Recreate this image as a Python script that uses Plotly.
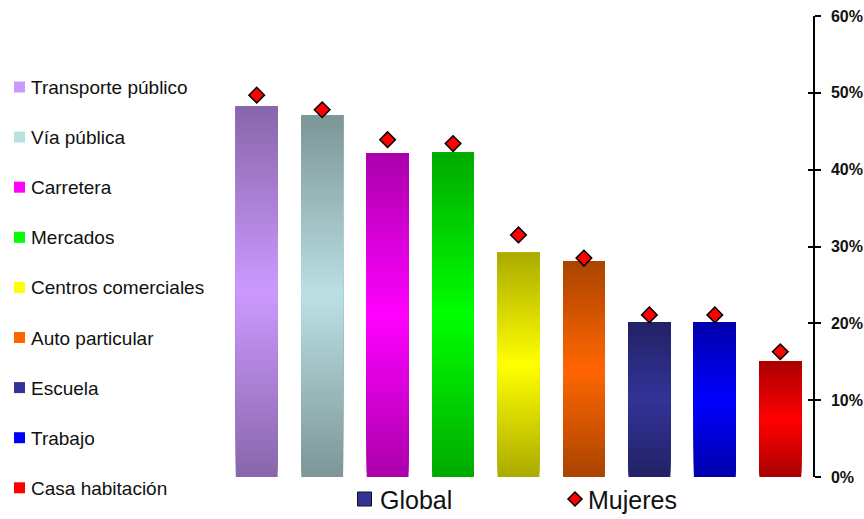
import plotly.graph_objects as go

# Lugares donde ocurren los hechos: total (barras) y mujeres (rombos)
lugares = ["Transporte público", "Vía pública", "Carretera", "Mercados",
           "Centros comerciales", "Auto particular", "Escuela", "Trabajo",
           "Casa habitación"]
global_pct = [0.482, 0.471, 0.421, 0.422, 0.292, 0.281, 0.201, 0.201, 0.150]
mujeres_pct = [0.497, 0.478, 0.439, 0.434, 0.315, 0.285, 0.211, 0.211, 0.163]
colores = ["#CC99FF", "#BBE0E3", "#FF00FF", "#00FF00", "#FFFF00",
           "#FF6600", "#333399", "#0000FF", "#FF0000"]
ticks_y = [0, 0.1, 0.2, 0.3, 0.4, 0.5, 0.6]

FONT = "Liberation Sans, Arial, sans-serif"
W, H = 864, 519
ML, MR, MT, MB = 224, 51, 16, 42


def hex_rgb(c):
    c = c.lstrip("#")
    return [int(c[i:i + 2], 16) for i in (0, 2, 4)]


def shade(c, f):
    r, g, b = hex_rgb(c)
    return "rgb(%d,%d,%d)" % (round(r * f), round(g * f), round(b * f))


def px(xp):
    return (xp - ML) / (W - ML - MR)


def py(yp):
    return (H - MB - yp) / (H - MT - MB)


fig = go.Figure()

# Barras con degradado vertical: oscuro arriba y abajo, claro al centro.
N = 60
for i in range(N):
    t = (i + 0.5) / N
    f = 2 / 3 + (1 / 3) * (1 - abs(2 * t - 1))
    fig.add_trace(go.Bar(
        x=lugares,
        base=[v * i / N for v in global_pct],
        y=[v * (1 - i / N) for v in global_pct],
        marker=dict(color=[shade(c, f) for c in colores], line=dict(width=0)),
        showlegend=False, hoverinfo="skip",
    ))

fig.add_trace(go.Scatter(
    x=lugares, y=mujeres_pct, mode="markers", name="Mujeres",
    yaxis="y2", showlegend=False,
    marker=dict(symbol="diamond", size=12, color="#FF0000",
                line=dict(color="black", width=1.5)),
))

shapes = []
annotations = []

# Leyenda de lugares a la izquierda
for i, (lug, col) in enumerate(zip(lugares, colores)):
    cy = 87 + 50.1 * i
    shapes.append(dict(type="rect", xref="paper", yref="paper",
                       x0=px(14), x1=px(25), y0=py(cy + 5.5), y1=py(cy - 5.5),
                       fillcolor=col, line=dict(width=0)))
    annotations.append(dict(text=lug, xref="paper", yref="paper",
                            x=px(28.5), y=py(cy + 0.5), xanchor="left",
                            yanchor="middle", showarrow=False,
                            font=dict(family=FONT, size=19, color="#111111")))

# Leyenda inferior: Global / Mujeres
ly = 499
shapes.append(dict(type="rect", xref="paper", yref="paper",
                   x0=px(357.5), x1=px(371.5), y0=py(ly + 7), y1=py(ly - 7),
                   fillcolor="#333399", line=dict(color="#111111", width=1)))
annotations.append(dict(text="Global", xref="paper", yref="paper",
                        x=px(378), y=py(ly + 1), xanchor="left", yanchor="middle",
                        showarrow=False,
                        font=dict(family=FONT, size=25, color="#111111")))
shapes.append(dict(type="path", xref="paper", yref="paper",
                   xsizemode="pixel", ysizemode="pixel",
                   xanchor=px(575), yanchor=py(ly),
                   path="M -7 0 L 0 7 L 7 0 L 0 -7 Z",
                   fillcolor="#FF0000", line=dict(color="black", width=1.5)))
annotations.append(dict(text="Mujeres", xref="paper", yref="paper",
                        x=px(586), y=py(ly + 1), xanchor="left", yanchor="middle",
                        showarrow=False,
                        font=dict(family=FONT, size=25, color="#111111")))

fig.update_layout(
    width=W, height=H,
    margin=dict(l=ML, r=MR, t=MT, b=MB, pad=0, autoexpand=False),
    paper_bgcolor="white", plot_bgcolor="white",
    barmode="overlay", bargap=0.36,
    showlegend=False,
    xaxis=dict(range=[-0.5, len(lugares) - 0.5], showticklabels=False,
               showgrid=False, zeroline=False, showline=False, ticks="",
               automargin=False),
    yaxis=dict(range=[0, 0.6], side="right", tickvals=ticks_y,
               tickformat=".0%", ticks="outside", ticklen=6, tickwidth=1.5,
               tickcolor="black", showline=True, linecolor="black",
               linewidth=1.5, showgrid=False, zeroline=False,
               ticklabelstandoff=7, automargin=False,
               tickfont=dict(family=FONT, size=16, color="#111111",
                             weight="bold")),
    yaxis2=dict(range=[0, 0.6], side="right", overlaying="y",
                tickvals=ticks_y, showticklabels=False, ticks="inside",
                ticklen=5, tickwidth=1.5, tickcolor="black", showline=False,
                showgrid=False, zeroline=False, automargin=False),
    shapes=shapes,
    annotations=annotations,
)

fig.write_html("out.html")
